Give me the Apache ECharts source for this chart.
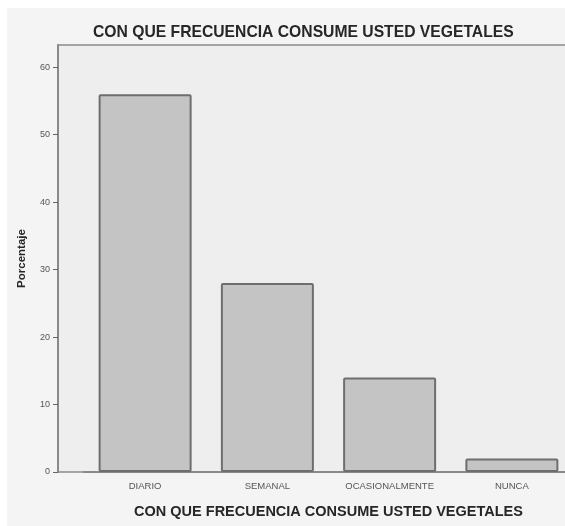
<!DOCTYPE html>
<html>
<head>
<meta charset="utf-8">
<script src="https://cdn.jsdelivr.net/npm/echarts@6/dist/echarts.min.js"></script>
<style>
  html, body { margin: 0; padding: 0; background: #ffffff; }
  #wrap { position: relative; width: 565px; height: 526px; overflow: hidden; background: #ffffff; }
  #chart { position: absolute; left: 7px; top: 8px; width: 558px; height: 518px; }
</style>
</head>
<body>
<div id="wrap"><div id="chart"></div></div>
<script>
  // datos del grafico
  const categories = ['DIARIO', 'SEMANAL', 'OCASIONALMENTE', 'NUNCA']
  const porcentajes = [56, 28, 14, 2]
  const yTicks = [0, 10, 20, 30, 40, 50, 60]
  const titulo = 'CON QUE FRECUENCIA CONSUME USTED VEGETALES'

  const fuente = "'Liberation Sans', Arial, sans-serif"
  const axisGray = '#8a8a8a'

  let myChart = echarts.init(document.getElementById('chart'))
  myChart.setOption({
    backgroundColor: '#f4f4f4',
    animation: false,
    title: {
      text: titulo,
      left: 81,
      top: 12,
      textStyle: { fontFamily: fuente, fontWeight: 'bold', fontSize: 15.7, color: '#262626' }
    },
    grid: [
      // marco del area del grafico
      { left: 51, top: 37, right: -12, bottom: 54, outerBoundsMode: 'none', show: true, backgroundColor: '#eeeeee', borderColor: axisGray, borderWidth: 1.5 },
      // area de las barras
      { left: 77, top: 37, right: -8, bottom: 54, outerBoundsMode: 'none' }
    ],
    xAxis: [
      { gridIndex: 0, type: 'value', show: false },
      {
        gridIndex: 1,
        type: 'category',
        data: categories,
        boundaryGap: true,
        axisLine: { lineStyle: { color: axisGray, width: 2 } },
        axisTick: { alignWithLabel: true, length: 4, lineStyle: { color: '#666' } },
        axisLabel: { margin: 9, fontSize: 9.5, color: '#555', fontFamily: fuente },
        name: titulo,
        nameLocation: 'middle',
        nameGap: 32,
        nameTextStyle: { fontFamily: fuente, fontWeight: 'bold', fontSize: 14.5, color: '#262626' }
      }
    ],
    yAxis: [
      { gridIndex: 0, type: 'value', show: false },
      {
        gridIndex: 1,
        type: 'value',
        min: 0,
        max: 63.3,
        interval: 10,
        offset: 26,
        splitLine: { show: false },
        axisLine: { show: true, lineStyle: { color: axisGray, width: 2 } },
        axisTick: { show: true, length: 5, customValues: yTicks, lineStyle: { color: '#666' } },
        axisLabel: { margin: 8, fontSize: 9, color: '#555', fontFamily: fuente, customValues: yTicks },
        name: 'Porcentaje',
        nameLocation: 'middle',
        nameGap: 30,
        nameRotate: 90,
        nameTextStyle: { fontFamily: fuente, fontWeight: 'bold', fontSize: 11.5, color: '#262626' }
      }
    ],
    series: [{
      name: 'Porcentaje',
      type: 'bar',
      xAxisIndex: 1,
      yAxisIndex: 1,
      data: porcentajes,
      barWidth: 93,
      itemStyle: { color: '#c4c4c4', borderColor: '#6e6e6e', borderWidth: 2, borderRadius: 1 }
    }]
  })
</script>
</body>
</html>
